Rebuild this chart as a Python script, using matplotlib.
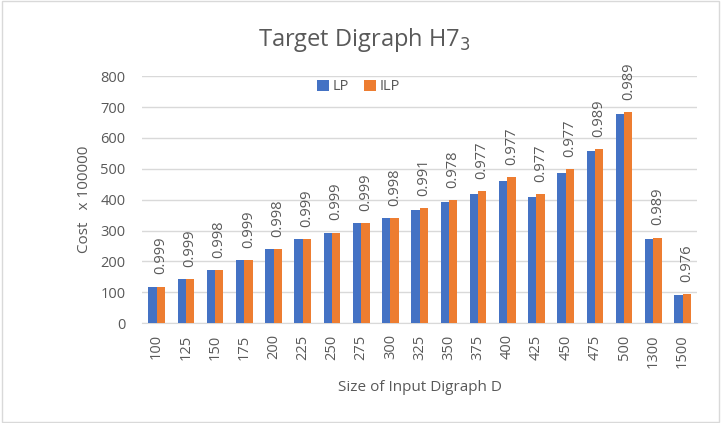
import numpy as np
import matplotlib.pyplot as plt

plt.rcParams['font.family'] = ['Open Sans', 'DejaVu Sans']

sizes = ['100', '125', '150', '175', '200', '225', '250', '275', '300', '325',
         '350', '375', '400', '425', '450', '475', '500', '1300', '1500']
lp = [118, 142, 171, 203, 239, 271, 292, 323, 341, 368,
      391, 417, 461, 408, 487, 558, 678, 274, 91]
ilp = [118, 142, 171, 203, 239, 271, 293, 323, 341, 372,
       399, 427, 472, 418, 498, 564, 684, 277, 93]
ratios = ['0.999', '0.999', '0.998', '0.999', '0.998', '0.999', '0.999', '0.999', '0.998', '0.991',
          '0.978', '0.977', '0.977', '0.977', '0.977', '0.989', '0.989', '0.989', '0.976']

blue = '#4472C4'
orange = '#ED7D31'
grey = '#595959'

fig = plt.figure(figsize=(7.21, 4.23), dpi=100)
ax = fig.add_axes([0.197, 0.236, 0.770, 0.584])

x = np.arange(len(sizes))
w = 0.285
ax.bar(x - w / 2, lp, w, color=blue, label='LP', zorder=3)
ax.bar(x + w / 2, ilp, w, color=orange, label='ILP', zorder=3)

# ratio labels above the ILP bars
for xi, yi, r in zip(x, ilp, ratios):
    ax.text(xi + w / 2, yi + 40, r, rotation=90, ha='center', va='bottom',
            fontsize=10.5, color=grey)

ax.set_xlim(-0.5, len(sizes) - 0.5)
ax.set_ylim(0, 800)
ax.set_yticks(range(0, 801, 100))
ax.set_xticks(x)
ax.set_xticklabels(sizes, rotation=90)
ax.tick_params(axis='both', length=0, labelsize=10.5, labelcolor=grey)
ax.tick_params(axis='y', pad=12)
ax.tick_params(axis='x', pad=8)
ax.grid(axis='y', color='#D9D9D9', linewidth=1, zorder=0)
for s in ['top', 'right', 'left']:
    ax.spines[s].set_visible(False)
ax.spines['bottom'].set_color('#D9D9D9')

ax.set_xlabel('Size of Input Digraph D', fontsize=11, color=grey, labelpad=9)
ax.set_ylabel('Cost   x 100000', fontsize=11, color=grey, labelpad=6)

fig.text(0.505, 0.905, 'Target Digraph H7$_3$', ha='center', va='center',
         fontsize=17, color=grey)

leg = ax.legend(loc='upper center', bbox_to_anchor=(0.39, 1.04), ncol=2, frameon=False,
                fontsize=10.5, handlelength=0.8, handleheight=0.8, handletextpad=0.3,
                columnspacing=1.0)
for t in leg.get_texts():
    t.set_color(grey)

fig.patches.append(plt.Rectangle((0.003, 0.003), 0.994, 0.994, transform=fig.transFigure,
                                 fill=False, edgecolor='#D9D9D9', linewidth=1))

fig.savefig('out.png', dpi=100)
